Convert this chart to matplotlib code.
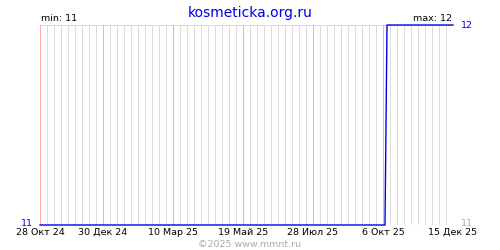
import datetime as dt
import matplotlib
matplotlib.use('Agg')
import matplotlib.pyplot as plt
import matplotlib.dates as mdates

# data
dates = [dt.date(2024, 10, 28), dt.date(2025, 10, 8), dt.date(2025, 10, 10), dt.date(2025, 12, 15)]
values = [11, 11, 12, 12]

tick_dates = [dt.date(2024, 10, 28), dt.date(2024, 12, 30), dt.date(2025, 3, 10),
              dt.date(2025, 5, 19), dt.date(2025, 7, 28), dt.date(2025, 10, 6),
              dt.date(2025, 12, 15)]
tick_labels = ['28 Окт 24', '30 Дек 24', '10 Мар 25', '19 Май 25',
               '28 Июл 25', '6 Окт 25', '15 Дек 25']

start, end = dates[0], dates[-1]
vmin, vmax = min(values), max(values)

fig = plt.figure(figsize=(5, 2.5), dpi=100)
ax = fig.add_axes([0.08, 0.1, 0.826, 0.8])

x0 = mdates.date2num(start)
x1 = mdates.date2num(end)
ax.set_xlim(x0, x1)
ax.set_ylim(vmin, vmax)

px = 72 / 100  # one pixel in points

# weekly grey lines, red ones on labelled dates
d = start
while d <= end:
    if d not in tick_dates:
        ax.axvline(mdates.date2num(d), color='#dcdcdc', lw=px, zorder=1, antialiased=False)
    d += dt.timedelta(days=7)
for t in tick_dates:
    ax.axvline(mdates.date2num(t), color='#ffaaaa', lw=px, zorder=2, antialiased=False)

for s in ax.spines.values():
    s.set_visible(False)
ax.axhline(vmax, color='#dcdcdc', lw=px, zorder=1, antialiased=False)
ax.axhline(vmin, color='#dcdcdc', lw=px, zorder=1, antialiased=False)

ax.plot(mdates.date2num(dates), values, color='#0000ee', lw=1, zorder=5, clip_on=False)

ax.set_xticks(mdates.date2num(tick_dates))
ax.set_xticklabels(tick_labels, fontsize=6.8)
ax.tick_params(axis='x', length=0, width=0, pad=2)
ax.set_yticks([])

ax.text(-0.018, 0.01, str(vmin), transform=ax.transAxes, ha='right', va='center',
        color='#0000ee', fontsize=6.8)
ax.text(1.02, 1, str(vmax), transform=ax.transAxes, ha='left', va='center',
        color='#0000ee', fontsize=6.8)
ax.text(1.02, 0.01, str(vmin), transform=ax.transAxes, ha='left', va='center',
        color='#aaaaaa', fontsize=6.8)
ax.text(0.002, 1.01, 'min: %d' % vmin, transform=ax.transAxes, ha='left', va='bottom', fontsize=6.8)
ax.text(0.997, 1.01, 'max: %d' % vmax, transform=ax.transAxes, ha='right', va='bottom', fontsize=6.8)

fig.text(0.5, 0.975, 'kosmeticka.org.ru', ha='center', va='top', color='#0000ee', fontsize=10)
fig.text(0.5, 0.005, '©2025 www.mmnt.ru', ha='center', va='bottom', color='#aaaaaa', fontsize=6.8)

fig.savefig('out.png', dpi=100)
